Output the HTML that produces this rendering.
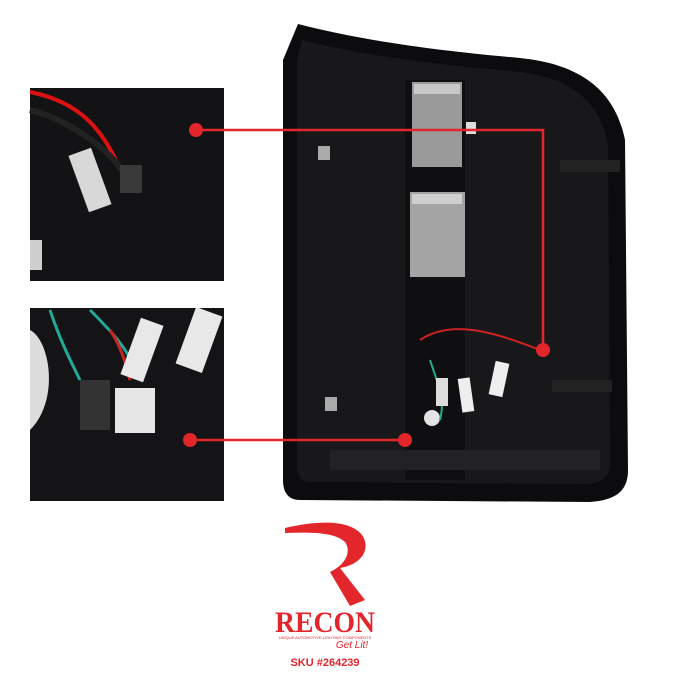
<!DOCTYPE html>
<html><head><style>body{margin:0;background:#fff;width:682px;height:674px;overflow:hidden;font-family:"Liberation Sans",sans-serif}</style></head>
<body>
<svg width="682" height="674" viewBox="0 0 682 674" xmlns="http://www.w3.org/2000/svg">
<rect width="682" height="674" fill="#fff"/>
<!-- tail light body -->
<path d="M298,24 C360,40 430,50 520,58 C580,64 615,90 625,140 L628,470 C628,492 615,500 590,502 L300,500 C288,500 283,492 283,480 L283,60 Z" fill="#0c0c0e"/>
<path d="M302,40 C360,55 430,64 520,72 C570,78 600,100 608,145 L610,462 C610,478 600,484 585,484 L310,482 C300,482 297,475 297,465 L297,60 Z" fill="#18181b"/>
<rect x="405" y="80" width="60" height="400" fill="#0f0f12"/>
<rect x="330" y="450" width="270" height="20" fill="#222226"/>
<!-- modules -->
<rect x="412" y="82" width="50" height="85" fill="#9a9a9a"/>
<rect x="414" y="84" width="46" height="10" fill="#c8c8c8"/>
<rect x="410" y="192" width="55" height="85" fill="#a4a4a4"/>
<rect x="412" y="194" width="50" height="10" fill="#cfcfcf"/>
<rect x="466" y="122" width="10" height="12" fill="#ddd"/>
<rect x="318" y="146" width="12" height="14" fill="#aaa"/>
<rect x="325" y="397" width="12" height="14" fill="#aaa"/>
<circle cx="432" cy="418" r="8" fill="#e4e4e4"/>
<path d="M420,340 C450,320 490,330 540,350" stroke="#c22" stroke-width="2" fill="none"/>
<path d="M430,360 C440,390 445,400 440,420" stroke="#2a8" stroke-width="2" fill="none"/>
<rect x="492" y="362" width="14" height="34" fill="#eee" transform="rotate(12 499 379)"/>
<rect x="460" y="378" width="12" height="34" fill="#eee" transform="rotate(-8 466 395)"/>
<rect x="436" y="378" width="12" height="28" fill="#ddd"/>
<rect x="552" y="380" width="60" height="12" fill="#222"/>
<rect x="560" y="160" width="60" height="12" fill="#222"/>
<!-- inset photos -->
<rect x="30" y="88" width="194" height="193" fill="#131315"/>
<path d="M30,92 C70,100 100,120 120,170" stroke="#d11" stroke-width="4" fill="none"/>
<path d="M30,110 C70,120 110,150 125,175" stroke="#222" stroke-width="6" fill="none"/>
<rect x="78" y="150" width="24" height="60" fill="#d8d8d8" transform="rotate(-20 90 180)"/>
<rect x="120" y="165" width="22" height="28" fill="#3a3a3a"/>
<rect x="30" y="240" width="12" height="30" fill="#cfcfcf"/>
<rect x="30" y="308" width="194" height="193" fill="#141416"/>
<path d="M50,310 C60,340 70,360 80,380" stroke="#2a9" stroke-width="3" fill="none"/>
<path d="M90,310 C110,330 130,350 140,380" stroke="#2a9" stroke-width="3" fill="none"/>
<path d="M110,330 C120,345 125,360 130,380" stroke="#c22" stroke-width="3" fill="none"/>
<rect x="130" y="320" width="24" height="60" fill="#e8e8e8" transform="rotate(20 142 350)"/>
<rect x="185" y="310" width="28" height="60" fill="#e8e8e8" transform="rotate(20 199 340)"/>
<rect x="115" y="388" width="40" height="45" fill="#e6e6e6"/>
<rect x="80" y="380" width="30" height="50" fill="#333"/>
<path d="M30,330 C50,340 60,400 30,430" fill="#dcdcdc"/>
<!-- callouts -->
<path d="M196,130 H543 V350" stroke="#e3262c" stroke-width="2.5" fill="none"/>
<path d="M190,440 H405" stroke="#e3262c" stroke-width="2.5" fill="none"/>
<circle cx="196" cy="130" r="7" fill="#e3262c"/>
<circle cx="543" cy="350" r="7" fill="#e3262c"/>
<circle cx="190" cy="440" r="7" fill="#e3262c"/>
<circle cx="405" cy="440" r="7" fill="#e3262c"/>
<!-- logo -->
<path d="M285,528 C320,520 350,520 362,535 C372,550 360,565 340,568 L365,600 L350,606 L330,572 C345,565 352,552 345,542 C335,532 310,532 285,533 Z" fill="#e3262c"/>
<text x="325" y="632" text-anchor="middle" font-family="Liberation Serif,serif" font-weight="bold" font-size="30" fill="#e3262c" textLength="100" lengthAdjust="spacingAndGlyphs">RECON</text>
<text x="325" y="639" text-anchor="middle" font-size="4" fill="#e3262c">UNIQUE AUTOMOTIVE LIGHTING COMPONENTS</text>
<text x="352" y="648" text-anchor="middle" font-style="italic" font-size="10" fill="#e3262c">Get Lit!</text>
<text x="325" y="666" text-anchor="middle" font-weight="bold" font-size="11" fill="#e3262c">SKU #264239</text>
</svg>
</body></html>
